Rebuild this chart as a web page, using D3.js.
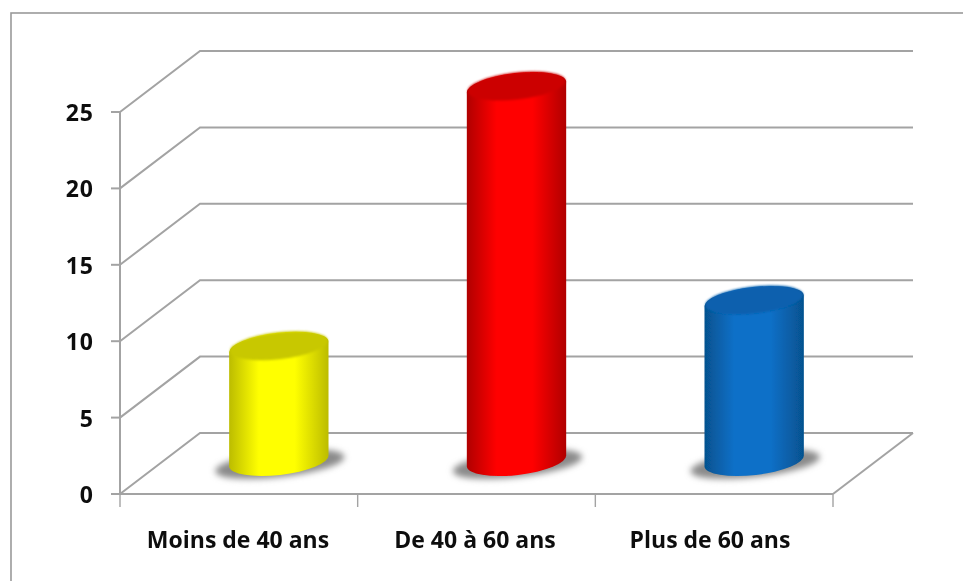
<!DOCTYPE html>
<html><head><meta charset="utf-8">
<script src="https://cdn.jsdelivr.net/npm/d3@7/dist/d3.min.js"></script>
<style>html,body{margin:0;background:#fff;overflow:hidden}svg{display:block}</style></head>
<body><svg id="c" width="963" height="581"></svg>
<script>
const categories = ["Moins de 40 ans", "De 40 à 60 ans", "Plus de 60 ans"];
const values = [8, 25, 11];
const yTicks = [0, 5, 10, 15, 20, 25];
const palette = [
  {mid:"#ffff00", edge:"#bcbc00", top:"#c8c800"},
  {mid:"#ff0000", edge:"#b00000", top:"#cc0000"},
  {mid:"#0a70c8", edge:"#06528f", top:"#0860ae"}
];
const svg = d3.select("#c");
const grey = "#a3a3a3";
const y = d3.scaleLinear().domain([0,25]).range([494,112]);
const x = d3.scaleBand().domain(categories).range([120,833]);
const dx = 80, dy = -61, capDrop = 8;
const defs = svg.append("defs");
const soft = defs.append("filter").attr("id","s").attr("x","-5%").attr("y","-5%").attr("width","110%").attr("height","110%");
soft.append("feGaussianBlur").attr("stdDeviation",0.7);
const blur = defs.append("filter").attr("id","b").attr("x","-30%").attr("y","-60%").attr("width","160%").attr("height","220%");
blur.append("feGaussianBlur").attr("stdDeviation",3);
const capBlur = defs.append("filter").attr("id","k").attr("x","-10%").attr("y","-30%").attr("width","120%").attr("height","160%");
capBlur.append("feGaussianBlur").attr("stdDeviation",1.2);
const root = svg.append("g").attr("filter","url(#s)");
root.append("rect").attr("x",-10).attr("y",-10).attr("width",983).attr("height",601).attr("fill","#fff");
root.append("rect").attr("x",11).attr("y",13).attr("width",1000).attr("height",620).attr("fill","#fff").attr("stroke","#9a9a9a").attr("stroke-width",1.6);
const g = root.append("g").attr("fill","none").attr("stroke",grey).attr("stroke-width",2);
yTicks.forEach(t=>{
  g.append("path").attr("d",d3.line()([[x.range()[0],y(t)],[x.range()[0]+dx,y(t)+dy],[x.range()[1]+dx,y(t)+dy]]));
  g.append("line").attr("x1",111).attr("x2",120).attr("y1",y(t)).attr("y2",y(t));
});
g.append("line").attr("x1",120).attr("x2",120).attr("y1",y(25)).attr("y2",y(0));
g.append("line").attr("x1",111).attr("x2",833).attr("y1",y(0)).attr("y2",y(0));
g.append("line").attr("x1",833).attr("x2",833+dx).attr("y1",y(0)).attr("y2",y(0)+dy);
const edges = [...categories.map(c=>x(c)), 833];
edges.forEach(e=>g.append("line").attr("x1",e).attr("x2",e).attr("y1",494).attr("y2",507).attr("stroke-width",1.4));
const rx = 50, ry = 14, tilt = -6.5;
categories.forEach((c,i)=>{
  const p = palette[i];
  const cx = x(c)+x.bandwidth()/2+dx/2;
  const by = y(0)+dy/2-2.5;
  const ty = by-(y(0)-y(values[i]))+capDrop;
  const grad = defs.append("linearGradient").attr("id","g"+i);
  [[0,p.edge],[.3,p.mid],[.66,p.mid],[1,p.edge]].forEach(s=>grad.append("stop").attr("offset",s[0]).attr("stop-color",s[1]));
  root.append("ellipse").attr("cx",cx+1).attr("cy",by+3).attr("rx",rx+15).attr("ry",ry-1)
    .attr("transform",`rotate(${tilt} ${cx+1} ${by+3})`).attr("fill","#8a8a8a").attr("filter","url(#b)");
  const rad = tilt*Math.PI/180;
  const hx = rx*Math.cos(rad), sh = rx*Math.sin(rad);
  root.append("path").attr("fill",`url(#g${i})`).attr("d",
    `M${cx-hx},${ty-sh}L${cx-hx},${by-sh}A${rx},${ry} ${tilt} 0 0 ${cx+hx},${by+sh}L${cx+hx},${ty+sh}A${rx},${ry} ${tilt} 0 0 ${cx-hx},${ty-sh}Z`);
  root.append("ellipse").attr("cx",cx).attr("cy",ty-1).attr("rx",rx-1).attr("ry",ry-0.5)
    .attr("transform",`rotate(${tilt} ${cx} ${ty-1})`).attr("fill",p.top).attr("filter","url(#k)");
});
yTicks.forEach(t=>root.append("text").attr("x",94).attr("y",y(t)+9).attr("text-anchor","end")
  .attr("font-family","Open Sans").attr("font-weight",700).attr("font-size",23).attr("letter-spacing",1).attr("fill","#111").text(t));
const labelX = [238, 475, 710];
categories.forEach((c,i)=>root.append("text").attr("x",labelX[i]).attr("y",548).attr("text-anchor","middle")
  .attr("font-family","Open Sans").attr("font-weight",700).attr("font-size",23).attr("fill","#111").text(c));
</script></body></html>
